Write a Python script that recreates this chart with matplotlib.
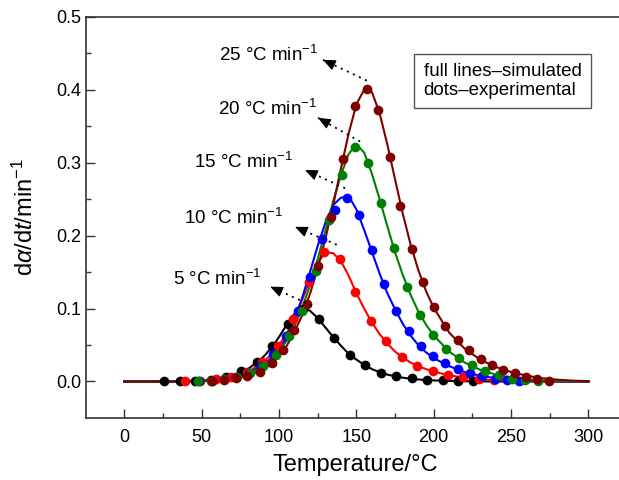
import numpy as np
import matplotlib
matplotlib.use("Agg")
import matplotlib.pyplot as plt
from matplotlib.ticker import MultipleLocator, FormatStrFormatter

plt.rcParams['font.family'] = ['Liberation Sans', 'DejaVu Sans']
plt.rcParams['mathtext.fontset'] = 'custom'
plt.rcParams['mathtext.rm'] = 'Liberation Sans'
plt.rcParams['mathtext.it'] = 'Liberation Sans:italic'

# simulated curves (full lines), common temperature grid
t_sim = [0, 20, 40, 50, 60, 70, 80, 90, 95, 100, 105, 110, 115, 120, 125, 130, 135, 140, 145, 150,
         155, 160, 165, 170, 175, 180, 185, 190, 195, 200, 210, 220, 230, 240, 250, 260, 270, 280, 290, 300]
sim_5 = [0, 0, 0.0005, 0.0015, 0.003, 0.008, 0.017, 0.034, 0.046, 0.061, 0.078, 0.093, 0.101, 0.097,
         0.087, 0.074, 0.061, 0.049, 0.038, 0.030, 0.023, 0.017, 0.0128, 0.0095, 0.007, 0.0052, 0.0038,
         0.0028, 0.002, 0.0015, 0.0008, 0.0004, 0.0002, 0, 0, 0, 0, 0, 0, 0]
sim_10 = [0, 0, 0.0005, 0.001, 0.003, 0.006, 0.013, 0.027, 0.037, 0.050, 0.066, 0.087, 0.112, 0.140,
          0.163, 0.177, 0.176, 0.165, 0.145, 0.121, 0.100, 0.081, 0.065, 0.052, 0.041, 0.033, 0.026,
          0.021, 0.017, 0.0135, 0.0085, 0.0052, 0.003, 0.0017, 0.0009, 0.0004, 0.0002, 0, 0, 0]
sim_15 = [0, 0, 0, 0.001, 0.002, 0.005, 0.011, 0.023, 0.032, 0.044, 0.061, 0.085, 0.115, 0.150,
          0.186, 0.218, 0.242, 0.252, 0.254, 0.236, 0.208, 0.178, 0.148, 0.121, 0.099, 0.079, 0.063,
          0.050, 0.040, 0.032, 0.021, 0.013, 0.0078, 0.0045, 0.0025, 0.0013, 0.0006, 0.0003, 0, 0]
sim_20 = [0, 0, 0, 0.0008, 0.002, 0.005, 0.010, 0.021, 0.030, 0.041, 0.056, 0.076, 0.101, 0.132,
          0.168, 0.207, 0.247, 0.283, 0.312, 0.325, 0.314, 0.285, 0.250, 0.213, 0.177, 0.146, 0.119,
          0.096, 0.078, 0.063, 0.041, 0.026, 0.016, 0.0095, 0.0055, 0.003, 0.0015, 0.0007, 0.0003, 0]
sim_25 = [0, 0, 0, 0.0005, 0.0015, 0.004, 0.008, 0.017, 0.024, 0.035, 0.049, 0.068, 0.091, 0.120,
          0.155, 0.196, 0.242, 0.292, 0.340, 0.380, 0.400, 0.397, 0.368, 0.325, 0.277, 0.230, 0.188,
          0.153, 0.124, 0.101, 0.067, 0.045, 0.030, 0.020, 0.013, 0.008, 0.0045, 0.0025, 0.0012, 0.0005]

# experimental points (dots)
t_exp_5 = [25.7, 35.7, 45.7, 55.7, 65.7, 75.7, 85.7, 95.7, 105.7, 115.7, 125.7, 135.7, 145.7, 155.7,
           165.7, 175.7, 185.7, 195.7, 205.7, 215.7, 225.7]
exp_5 = [0, 0, 0.001, 0.002, 0.006, 0.014, 0.027, 0.048, 0.079, 0.100, 0.086, 0.059, 0.036, 0.022,
         0.012, 0.0075, 0.0045, 0.0025, 0.0015, 0.001, 0.0005]
t_exp_10 = [39.2, 49.2, 59.2, 69.2, 79.2, 89.2, 99.2, 109.2, 119.2, 129.2, 139.2, 149.2, 159.2, 169.2,
            179.2, 189.2, 199.2, 209.2, 219.2, 229.2, 239.2]
exp_10 = [0, 0.001, 0.003, 0.006, 0.013, 0.027, 0.049, 0.085, 0.137, 0.177, 0.168, 0.123, 0.083, 0.055,
          0.034, 0.0215, 0.0147, 0.009, 0.0055, 0.003, 0.002]
t_exp_15 = [48.5, 56.5, 64.4, 72.4, 80.3, 88.3, 96.2, 104.2, 112.1, 120.1, 128.0, 136.0, 143.9, 151.9,
            159.8, 167.8, 175.7, 183.7, 191.6, 199.6, 207.5, 215.5, 223.4, 231.4, 239.3, 247.3, 255.2]
exp_15 = [0, 0.001, 0.003, 0.006, 0.012, 0.021, 0.038, 0.062, 0.097, 0.143, 0.195, 0.235, 0.252, 0.228,
          0.180, 0.133, 0.097, 0.069, 0.049, 0.035, 0.025, 0.017, 0.011, 0.0069, 0.0033, 0.0015, 0.0005]
t_exp_20 = [47.5, 56.0, 64.4, 72.9, 81.3, 89.8, 98.2, 106.7, 115.1, 123.6, 132.0, 140.5, 148.9, 157.4,
            165.8, 174.3, 182.7, 191.2, 199.6, 208.1, 216.5, 225.0, 233.4, 241.9, 250.3, 258.8, 267.2]
exp_20 = [0, 0.001, 0.003, 0.006, 0.011, 0.021, 0.037, 0.062, 0.097, 0.152, 0.222, 0.283, 0.322, 0.300,
          0.245, 0.183, 0.130, 0.091, 0.064, 0.045, 0.032, 0.023, 0.0145, 0.0085, 0.004, 0.0015, 0.0003]
t_exp_25 = [56.5, 64.4, 72.0, 79.5, 87.7, 95.3, 102.8, 109.7, 118.3, 125.4, 133.4, 141.2, 149.1, 156.7,
            164.2, 171.7, 178.5, 185.8, 193.3, 200.4, 207.5, 215.4, 222.9, 230.5, 237.7, 245.0, 252.5,
            259.7, 267.0, 274.5]
exp_25 = [0, 0.002, 0.005, 0.008, 0.0137, 0.026, 0.0435, 0.071, 0.106, 0.158, 0.226, 0.305, 0.378, 0.4015,
          0.372, 0.308, 0.241, 0.182, 0.137, 0.102, 0.0755, 0.057, 0.0425, 0.031, 0.022, 0.016, 0.0115,
          0.006, 0.0037, 0.001]

colores = ['#000000', '#ff0000', '#0000ff', '#008000', '#800000']
rates = ['5', '10', '15', '20', '25']

# label text anchor (right, baseline) and arrow head/tail in data units
label_pos = [(89.0, 0.1326), (102.6, 0.2163), (109.0, 0.2927), (124.5, 0.366), (125.4, 0.439)]
arrow_head = [(94.3, 0.130), (110.3, 0.212), (116.8, 0.290), (125.2, 0.3615), (128.4, 0.441)]
arrow_tail = [(121.3, 0.104), (137.3, 0.1875), (142.7, 0.265), (152.4, 0.329), (156.7, 0.4125)]

sims = [sim_5, sim_10, sim_15, sim_20, sim_25]
exps = [(t_exp_5, exp_5), (t_exp_10, exp_10), (t_exp_15, exp_15), (t_exp_20, exp_20), (t_exp_25, exp_25)]

fig = plt.figure(figsize=(6.19, 4.80), dpi=100)
ax = fig.add_axes([0.139, 0.130, 0.87, 0.835])

for sim, (te, ye), c in zip(sims, exps, colores):
    ax.plot(t_sim, sim, color=c, lw=1.5, zorder=2)
    ax.plot(te, ye, 'o', color=c, ms=7, mew=0, zorder=3)

for r, lp, hd, tl in zip(rates, label_pos, arrow_head, arrow_tail):
    ax.text(lp[0], lp[1], r + ' °C min$^{-1}$', ha='right', va='baseline', fontsize=13.5)
    # dotted shaft
    ax.plot([tl[0], hd[0]], [tl[1], hd[1]], color='black', lw=1.3, ls=(0, (1.1, 2.6)),
            solid_capstyle='round', zorder=4)
    # solid head
    hd_a = np.array(hd)
    back = hd_a + 0.25 * (np.array(tl) - hd_a)
    ax.annotate('', xy=hd, xytext=tuple(back),
                arrowprops=dict(arrowstyle='-|>,head_length=0.7,head_width=0.3', color='black', lw=0.8,
                                mutation_scale=11, shrinkA=0, shrinkB=0), zorder=4)

ax.text(0.627, 0.885, 'full lines–simulated\ndots–experimental', transform=ax.transAxes,
        ha='left', va='top', fontsize=13.5, linespacing=1.15,
        bbox=dict(boxstyle='square,pad=0.5', fc='white', ec='#555555', lw=1.0))

# axis scaling: 0 °C at px 124.3, 300 °C at px 588.3
x0 = -(124.3 - 86) / 1.547
x1 = x0 + 0.87 * 619 / 1.547
ax.set_xlim(x0, x1)
ax.set_ylim(-0.0495, 0.5)
ax.set_xticks([0, 50, 100, 150, 200, 250, 300])
ax.xaxis.set_minor_locator(MultipleLocator(25))
ax.yaxis.set_major_locator(MultipleLocator(0.1))
ax.yaxis.set_minor_locator(MultipleLocator(0.05))
ax.yaxis.set_major_formatter(FormatStrFormatter('%.1f'))
ax.tick_params(which='major', direction='in', length=6.5, width=1.0, labelsize=13, color='#333333')
ax.tick_params(which='minor', direction='in', length=3.5, width=1.0, color='#333333')
ax.tick_params(axis='x', pad=8)
for s in ax.spines.values():
    s.set_color('#333333')
    s.set_linewidth(1.2)

ax.set_xlabel('Temperature/°C', fontsize=17, labelpad=6)
ax.set_ylabel(r'd$\alpha$/d$t$/min$^{-1}$', fontsize=17, labelpad=13)

fig.savefig('out.png', dpi=100)
